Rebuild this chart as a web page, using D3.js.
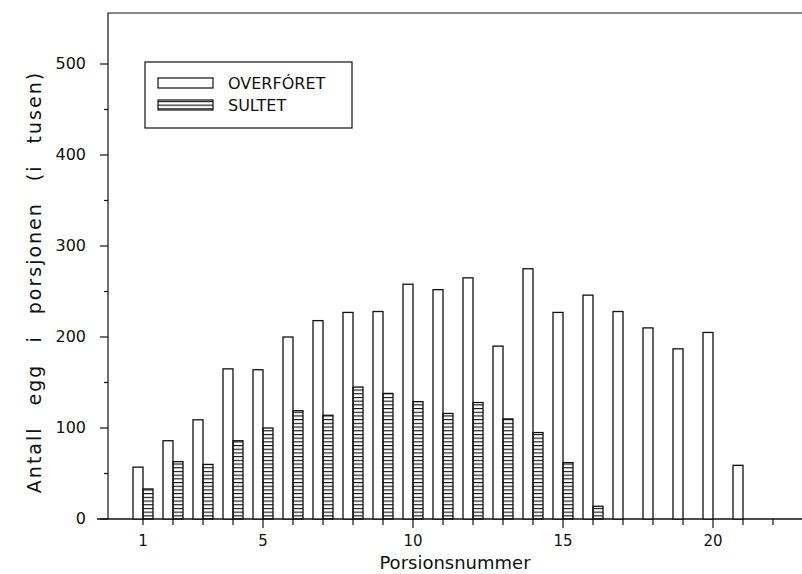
<!DOCTYPE html>
<html>
<head>
<meta charset="utf-8">
<script src="https://cdnjs.cloudflare.com/ajax/libs/d3/7.8.5/d3.min.js"></script>
<style>
  body { margin: 0; background: #fff; }
  text { font-family: "DejaVu Sans", sans-serif; fill: #111; }
</style>
</head>
<body>
<div id="chart"></div>
<script>
var porsjon = [1, 2, 3, 4, 5, 6, 7, 8, 9, 10, 11, 12, 13, 14, 15, 16, 17, 18, 19, 20, 21];
var overforet = [57, 86, 109, 165, 164, 200, 218, 227, 228, 258, 252, 265, 190, 275, 227, 246, 228, 210, 187, 205, 59];
var sultet = [33, 63, 60, 86, 100, 119, 114, 145, 138, 129, 116, 128, 110, 95, 62, 14];
var yTicks = [0, 100, 200, 300, 400, 500];
var xTickLabels = [1, 5, 10, 15, 20];
var seriesNames = ["OVERFÓRET", "SULTET"];

var width = 802, height = 574;

var svg = d3.select("#chart").append("svg")
    .attr("width", width)
    .attr("height", height);

// horizontal hatch for the "sultet" bars
svg.append("defs").append("pattern")
    .attr("id", "hatch")
    .attr("patternUnits", "userSpaceOnUse")
    .attr("x", 0).attr("y", 519)
    .attr("width", 8).attr("height", 3.7)
  .append("line")
    .attr("x1", 0).attr("x2", 8)
    .attr("y1", 0.5).attr("y2", 0.5)
    .attr("stroke", "#111")
    .attr("stroke-width", 1.3);

var x = d3.scaleLinear()
    .domain([1, 20])
    .range([143, 713]);

var y = d3.scaleLinear()
    .domain([0, 500])
    .range([519, 64]);

var barW = 10;

// frame: top and left lines
svg.append("path")
    .attr("d", "M108,519 L108,13 L802,13")
    .attr("fill", "none")
    .attr("stroke", "#111")
    .attr("stroke-width", 1.2);

// x axis
svg.append("line")
    .attr("x1", 97).attr("x2", 802)
    .attr("y1", y(0)).attr("y2", y(0))
    .attr("stroke", "#111")
    .attr("stroke-width", 1.4);

var xAll = d3.range(1, 23);
svg.selectAll(".xtick")
    .data(xAll)
    .enter().append("line")
    .attr("x1", function(d) { return x(d); })
    .attr("x2", function(d) { return x(d); })
    .attr("y1", y(0))
    .attr("y2", function(d) { return y(0) + (d % 5 === 0 ? 9 : 6); })
    .attr("stroke", "#111")
    .attr("stroke-width", 1.2);

svg.selectAll(".xlab")
    .data(xTickLabels)
    .enter().append("text")
    .attr("x", function(d) { return x(d); })
    .attr("y", 546)
    .attr("text-anchor", "middle")
    .style("font-size", "15px")
    .text(function(d) { return d; });

// y axis ticks
var yMinor = d3.range(50, 500, 100);
svg.selectAll(".ytick")
    .data(yTicks)
    .enter().append("line")
    .attr("x1", 100).attr("x2", 108)
    .attr("y1", function(d) { return y(d); })
    .attr("y2", function(d) { return y(d); })
    .attr("stroke", "#111")
    .attr("stroke-width", 1.2);

svg.selectAll(".yminor")
    .data(yMinor)
    .enter().append("line")
    .attr("x1", 104).attr("x2", 108)
    .attr("y1", function(d) { return y(d); })
    .attr("y2", function(d) { return y(d); })
    .attr("stroke", "#111")
    .attr("stroke-width", 1.2);

svg.selectAll(".ylab")
    .data(yTicks)
    .enter().append("text")
    .attr("x", 86)
    .attr("y", function(d) { return y(d) + 5; })
    .attr("text-anchor", "end")
    .style("font-size", "16px")
    .text(function(d) { return d; });

// bars
svg.selectAll(".bar-o")
    .data(overforet)
    .enter().append("rect")
    .attr("x", function(d, i) { return x(porsjon[i]) - barW; })
    .attr("y", function(d) { return y(d); })
    .attr("width", barW)
    .attr("height", function(d) { return y(0) - y(d); })
    .attr("fill", "#fff")
    .attr("stroke", "#111")
    .attr("stroke-width", 1.3);

svg.selectAll(".bar-s")
    .data(sultet)
    .enter().append("rect")
    .attr("x", function(d, i) { return x(porsjon[i]); })
    .attr("y", function(d) { return y(d); })
    .attr("width", barW)
    .attr("height", function(d) { return y(0) - y(d); })
    .attr("fill", "url(#hatch)")
    .attr("stroke", "#111")
    .attr("stroke-width", 1.3);

// axis titles
svg.append("text")
    .attr("x", 455)
    .attr("y", 569)
    .attr("text-anchor", "middle")
    .style("font-size", "18px")
    .text("Porsionsnummer");

svg.append("text")
    .attr("transform", "translate(41,282) rotate(-90)")
    .attr("text-anchor", "middle")
    .style("font-size", "19px")
    .style("word-spacing", "13px")
    .style("letter-spacing", "2px")
    .text("Antall egg i porsjonen (i tusen)");

// legend
var legend = svg.append("g");
legend.append("rect")
    .attr("x", 145).attr("y", 62)
    .attr("width", 207).attr("height", 66)
    .attr("fill", "#fff")
    .attr("stroke", "#111")
    .attr("stroke-width", 1.2);

seriesNames.forEach(function(name, i) {
    legend.append("rect")
        .attr("x", 158).attr("y", 78 + i * 22)
        .attr("width", 55).attr("height", 10)
        .attr("fill", i === 0 ? "#fff" : "url(#hatch)")
        .attr("stroke", "#111")
        .attr("stroke-width", 1.2);
    legend.append("text")
        .attr("x", 228).attr("y", 89 + i * 22)
        .style("font-size", "16px")
        .text(name);
});
</script>
</body>
</html>
